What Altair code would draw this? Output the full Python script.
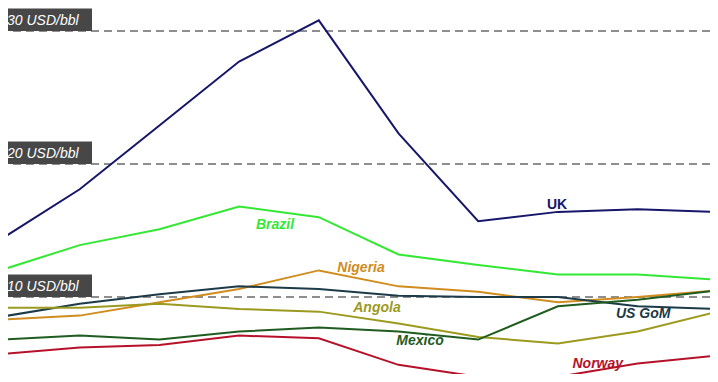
import altair as alt
import pandas as pd

# x positions (periods, evenly spaced)
periods = [0, 1, 2, 3, 4, 5, 6, 7, 8, 9]

series_names = ["UK", "Brazil", "Nigeria", "US GoM", "Angola", "Mexico", "Norway"]
uk      = [14.3, 18.1, 22.9, 27.7, 30.8, 22.3, 15.7, 16.4, 16.6, 16.4]
brazil  = [12.0, 13.9, 15.1, 16.8, 16.0, 13.2, 12.4, 11.7, 11.7, 11.3]
nigeria = [8.3, 8.6, 9.6, 10.6, 12.0, 10.8, 10.4, 9.6, 10.0, 10.5]
usgom   = [8.5, 9.5, 10.2, 10.8, 10.6, 10.1, 10.0, 10.0, 9.3, 9.1]
angola  = [9.2, 9.2, 9.5, 9.1, 8.9, 8.0, 7.0, 6.5, 7.4, 8.9]
mexico  = [6.8, 7.1, 6.8, 7.4, 7.7, 7.4, 6.8, 9.3, 9.8, 10.5]
norway  = [5.7, 6.2, 6.4, 7.1, 6.9, 4.9, 4.0, 4.0, 5.0, 5.6]
series_values = [uk, brazil, nigeria, usgom, angola, mexico, norway]
series_colors = ["#16166a", "#33e833", "#d08c1e", "#1c3a48", "#9c9a1e", "#1f5c1f", "#b5122a"]

ref_levels = [30, 20, 10]
ref_labels = ["30 USD/bbl", "20 USD/bbl", "10 USD/bbl"]

# label anchor points (in data coordinates)
label_x = [6.99, 3.45, 4.53, 8.07, 4.73, 5.27, 7.50]
label_y = [16.6, 15.1, 11.9, 8.42, 8.87, 6.39, 4.66]
label_italic = ["normal", "italic", "italic", "italic", "italic", "italic", "italic"]

rows = []
for name, vals in zip(series_names, series_values):
    for p, v in zip(periods, vals):
        rows.append({"series": name, "period": p, "value": v})
df = pd.DataFrame(rows)

lab = pd.DataFrame({"series": series_names, "lx": label_x, "ly": label_y, "style": label_italic})
ref = pd.DataFrame({"level": ref_levels, "label": ref_labels,
                    "top": [l + 1.7 for l in ref_levels]})

xs = alt.Scale(domain=[0, 9], range=[-8, 709.3])
ys = alt.Scale(domain=[0, 30], range=[422, 23])
cs = alt.Scale(domain=series_names, range=series_colors)

rules = alt.Chart(ref).mark_rule(color="#6a6a6a", strokeWidth=1.5, strokeDash=[8, 5]).encode(
    y=alt.Y("level:Q", scale=ys, axis=None)
)

lines = alt.Chart(df).mark_line(strokeWidth=2).encode(
    x=alt.X("period:Q", scale=xs, axis=None),
    y=alt.Y("value:Q", scale=ys, axis=None),
    color=alt.Color("series:N", scale=cs, legend=None),
    detail="series:N",
)

boxes = alt.Chart(ref).mark_rect(color="#474747").encode(
    x=alt.value(0), x2=alt.value(84),
    y=alt.Y("top:Q", scale=ys, axis=None), y2="level:Q",
)

box_text = alt.Chart(ref).mark_text(
    align="left", baseline="alphabetic", dy=-6, color="white",
    fontSize=14, fontStyle="italic", font="Liberation Sans"
).encode(
    x=alt.value(-1),
    y=alt.Y("level:Q", scale=ys, axis=None),
    text="label:N",
)

labels_nonital = alt.Chart(lab[lab["style"] == "normal"]).mark_text(
    align="center", baseline="alphabetic", fontSize=14, fontWeight="bold",
    font="Liberation Sans"
).encode(
    x=alt.X("lx:Q", scale=xs, axis=None),
    y=alt.Y("ly:Q", scale=ys, axis=None),
    text="series:N",
    color=alt.Color("series:N", scale=cs, legend=None),
)
labels_ital = alt.Chart(lab[lab["style"] == "italic"]).mark_text(
    align="center", baseline="alphabetic", fontSize=14, fontWeight="bold",
    fontStyle="italic", font="Liberation Sans"
).encode(
    x=alt.X("lx:Q", scale=xs, axis=None),
    y=alt.Y("ly:Q", scale=ys, axis=None),
    text="series:N",
    color=alt.Color("series:N", scale=cs, legend=None),
)

chart = alt.layer(rules, lines, boxes, box_text, labels_nonital, labels_ital).properties(
    width=702, height=366,
    autosize=alt.AutoSizeParams(type="none"),
    padding=0,
).configure(background="white").configure_view(stroke=None)

chart.save("out.html", embed_options={"renderer": "svg", "actions": False})
